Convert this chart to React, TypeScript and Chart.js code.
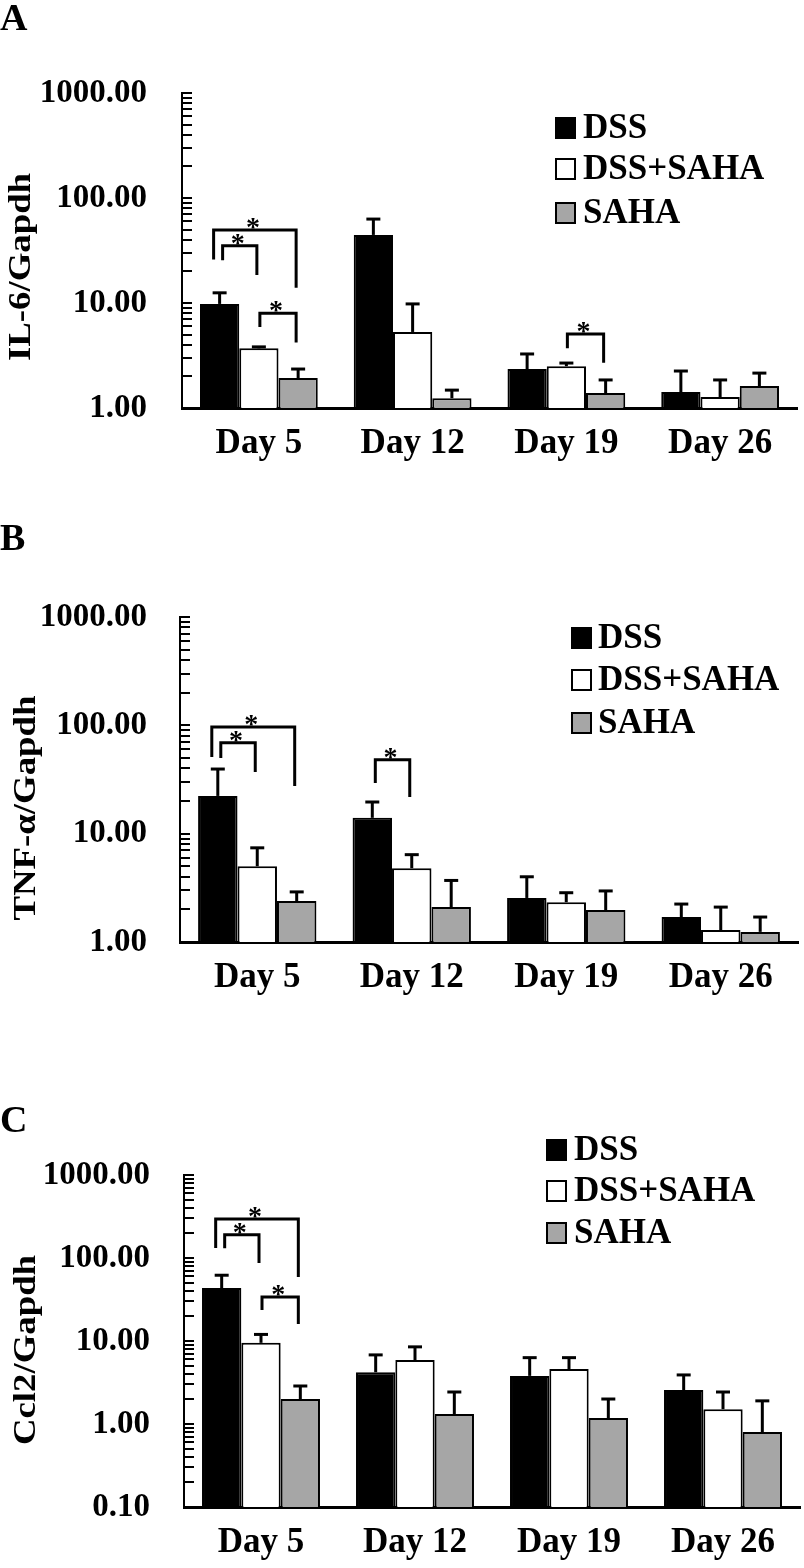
import React, { useEffect, useRef } from 'react';
import { Chart, registerables } from 'chart.js';

Chart.register(...registerables);

const DAYS = ['Day 5', 'Day 12', 'Day 19', 'Day 26'];
const GROUPS = ['DSS', 'DSS+SAHA', 'SAHA'];
const GROUP_FILLS = ['#000000', '#ffffff', '#a6a6a6'];

// Panel A: IL-6/Gapdh (means and upper SD)
const IL6_DSS = [9.8, 44.5, 2.35, 1.42];
const IL6_DSS_SAHA = [3.7, 5.3, 2.5, 1.27];
const IL6_SAHA = [1.93, 1.24, 1.39, 1.62];
const IL6_DSS_SD = [2.7, 18.5, 0.92, 0.83];
const IL6_DSS_SAHA_SD = [0.12, 4.5, 0.18, 0.58];
const IL6_SAHA_SD = [0.42, 0.24, 0.46, 0.53];

// Panel B: TNF-α/Gapdh
const TNF_DSS = [22.3, 14.0, 2.55, 1.7];
const TNF_DSS_SAHA = [5.0, 4.8, 2.33, 1.29];
const TNF_SAHA = [2.39, 2.1, 1.97, 1.24];
const TNF_DSS_SD = [17.2, 5.6, 1.45, 0.54];
const TNF_DSS_SAHA_SD = [2.4, 1.6, 0.52, 0.81];
const TNF_SAHA_SD = [0.51, 1.6, 0.99, 0.46];

// Panel C: Ccl2/Gapdh
const CCL2_DSS = [43.5, 4.2, 3.8, 2.57];
const CCL2_DSS_SAHA = [9.5, 5.9, 4.6, 1.51];
const CCL2_SAHA = [2.0, 1.32, 1.18, 0.8];
const CCL2_DSS_SD = [18.5, 2.6, 2.5, 1.33];
const CCL2_DSS_SAHA_SD = [2.5, 2.6, 1.7, 0.92];
const CCL2_SAHA_SD = [0.87, 1.11, 0.82, 1.1];

// Axis ticks
const MAJOR_TICKS_AB = [1, 10, 100, 1000];
const MAJOR_TICKS_C = [0.1, 1, 10, 100, 1000];
const MINOR_STEPS = [1, 2, 3, 4, 5, 6, 7, 8, 9];

// Significance brackets: [day index, first group, second group, bracket level, left leg end, right leg end]
const SIG_A = [
  [0, 0, 2, 49.6, 26, 14],
  [0, 0, 1, 35, 25.6, 18.5],
  [0, 1, 2, 8, 5.9, 4.2],
  [2, 1, 2, 5.07, 3.7, 2.7],
];
const SIG_B = [
  [0, 0, 2, 96.7, 51, 27.5],
  [0, 0, 1, 69, 50, 37],
  [1, 0, 1, 48, 29.4, 21.8],
];
const SIG_C = [
  [0, 0, 2, 295, 132, 59],
  [0, 0, 1, 190, 131, 87],
  [0, 1, 2, 34, 23.6, 16],
];

const FONT = '"Liberation Serif", "Times New Roman", serif';

type Spec = {
  letter: string;
  title: string;
  values: number[][];
  sds: number[][];
  sig: number[][];
  majors: number[];
};

type Layout = {
  top: number;
  height: number;
  axisLeft: number;
  labelRight: number;
  plotTop: number;
  plotBottom: number;
  plotRight: number;
  legendBoxX: number;
  legendTextX: number;
  legendRows: number[];
  titleX: number;
  titleY: number;
  letterBaseline: number;
};

const SPECS: Spec[] = [
  {
    letter: 'A',
    title: 'IL-6/Gapdh',
    values: [IL6_DSS, IL6_DSS_SAHA, IL6_SAHA],
    sds: [IL6_DSS_SD, IL6_DSS_SAHA_SD, IL6_SAHA_SD],
    sig: SIG_A,
    majors: MAJOR_TICKS_AB,
  },
  {
    letter: 'B',
    title: 'TNF-α/Gapdh',
    values: [TNF_DSS, TNF_DSS_SAHA, TNF_SAHA],
    sds: [TNF_DSS_SD, TNF_DSS_SAHA_SD, TNF_SAHA_SD],
    sig: SIG_B,
    majors: MAJOR_TICKS_AB,
  },
  {
    letter: 'C',
    title: 'Ccl2/Gapdh',
    values: [CCL2_DSS, CCL2_DSS_SAHA, CCL2_SAHA],
    sds: [CCL2_DSS_SD, CCL2_DSS_SAHA_SD, CCL2_SAHA_SD],
    sig: SIG_C,
    majors: MAJOR_TICKS_C,
  },
];

const LAYOUTS: Layout[] = [
  {
    top: 0, height: 500, axisLeft: 182, labelRight: 147, plotTop: 93, plotBottom: 408, plotRight: 797,
    legendBoxX: 556, legendTextX: 583, legendRows: [128, 169, 213], titleX: 30, titleY: 267, letterBaseline: 30,
  },
  {
    top: 500, height: 540, axisLeft: 180, labelRight: 147, plotTop: 117, plotBottom: 442, plotRight: 798,
    legendBoxX: 572, legendTextX: 598, legendRows: [138, 180, 223], titleX: 35, titleY: 308, letterBaseline: 50,
  },
  {
    top: 1040, height: 528, axisLeft: 184, labelRight: 150, plotTop: 135, plotBottom: 467, plotRight: 800,
    legendBoxX: 547, legendTextX: 574, legendRows: [110, 151, 193], titleX: 35, titleY: 310, letterBaseline: 92,
  },
];

const X_AXIS_HEIGHT = 55;

function makeTicks(majors: number[]): number[] {
  const out: number[] = [];
  for (let i = 0; i < majors.length - 1; i++) {
    for (const s of MINOR_STEPS) out.push(+(majors[i] * s).toPrecision(6));
  }
  out.push(majors[majors.length - 1]);
  return out;
}

function Panel({ spec, lay }: { spec: Spec; lay: Layout }) {
  const ref = useRef<HTMLCanvasElement>(null);

  useEffect(() => {
    const canvas = ref.current;
    if (!canvas) return;
    const tickValues = makeTicks(spec.majors);
    const yMin = spec.majors[0];
    const yMax = spec.majors[spec.majors.length - 1];

    const decor = {
      id: 'decor',
      beforeDatasetsDraw(chart: any) {
        const ctx = chart.ctx;
        const ys = chart.scales.y;
        const area = chart.chartArea;
        ctx.save();
        ctx.strokeStyle = '#000';
        ctx.lineWidth = 2;
        for (const v of tickValues) {
          const py = Math.round(ys.getPixelForValue(v));
          ctx.beginPath();
          ctx.moveTo(area.left, py);
          ctx.lineTo(area.left + 10, py);
          ctx.stroke();
        }
        ctx.restore();
      },
      afterDatasetsDraw(chart: any) {
        const ctx = chart.ctx;
        const ys = chart.scales.y;
        ctx.save();
        ctx.strokeStyle = '#000';
        ctx.lineCap = 'butt';
        // error bars (upper only)
        chart.data.datasets.forEach((ds: any, i: number) => {
          const meta = chart.getDatasetMeta(i);
          meta.data.forEach((bar: any, j: number) => {
            const topV = ds.data[j] + ds.sd[j];
            const yTop = ys.getPixelForValue(topV);
            ctx.lineWidth = 3;
            ctx.beginPath();
            ctx.moveTo(bar.x, bar.y);
            ctx.lineTo(bar.x, yTop);
            ctx.stroke();
            ctx.beginPath();
            ctx.moveTo(bar.x - 7, yTop);
            ctx.lineTo(bar.x + 7, yTop);
            ctx.stroke();
          });
        });
        // significance brackets
        ctx.lineWidth = 3;
        ctx.lineJoin = 'miter';
        for (const b of spec.sig) {
          const [day, g1, g2, level, leftEnd, rightEnd] = b;
          const b1 = chart.getDatasetMeta(g1).data[day];
          const b2 = chart.getDatasetMeta(g2).data[day];
          const offL = g2 - g1 === 2 ? -6 : g1 === 0 ? 3 : 1;
          const xL = b1.x + offL;
          const xR = b2.x - 2;
          const yT = ys.getPixelForValue(level);
          ctx.beginPath();
          ctx.moveTo(xL, ys.getPixelForValue(leftEnd));
          ctx.lineTo(xL, yT);
          ctx.lineTo(xR, yT);
          ctx.lineTo(xR, ys.getPixelForValue(rightEnd));
          ctx.stroke();
          ctx.fillStyle = '#000';
          ctx.font = `bold 28px ${FONT}`;
          ctx.textAlign = 'center';
          ctx.textBaseline = 'alphabetic';
          ctx.fillText('*', (xL + xR) / 2 - 2, yT + 6);
        }
        ctx.restore();
      },
      afterDraw(chart: any) {
        const ctx = chart.ctx;
        ctx.save();
        // legend
        ctx.font = `bold 35px ${FONT}`;
        ctx.textAlign = 'left';
        ctx.textBaseline = 'middle';
        GROUPS.forEach((g, i) => {
          const cy = lay.legendRows[i];
          ctx.fillStyle = GROUP_FILLS[i];
          ctx.fillRect(lay.legendBoxX, cy - 10, 19, 20);
          ctx.strokeStyle = '#000';
          ctx.lineWidth = 2;
          ctx.strokeRect(lay.legendBoxX, cy - 10, 19, 20);
          ctx.fillStyle = '#000';
          ctx.fillText(g, lay.legendTextX, cy + 1);
        });
        // y axis title
        ctx.save();
        ctx.translate(lay.titleX, lay.titleY);
        ctx.rotate(-Math.PI / 2);
        ctx.scale(1.15, 1);
        ctx.font = `bold 32px ${FONT}`;
        ctx.textAlign = 'center';
        ctx.textBaseline = 'alphabetic';
        ctx.fillStyle = '#000';
        ctx.fillText(spec.title, 0, 0);
        ctx.restore();
        // panel letter
        ctx.font = `bold 38px ${FONT}`;
        ctx.textAlign = 'left';
        ctx.textBaseline = 'alphabetic';
        ctx.fillStyle = '#000';
        ctx.fillText(spec.letter, 0, lay.letterBaseline);
        ctx.restore();
      },
    };

    const chart = new Chart(canvas, {
      type: 'bar',
      data: {
        labels: DAYS,
        datasets: GROUPS.map((g, i) => ({
          label: g,
          data: spec.values[i],
          sd: spec.sds[i],
          backgroundColor: GROUP_FILLS[i],
          borderColor: '#000',
          borderWidth: 2,
          categoryPercentage: 0.766,
          barPercentage: 1.0,
        })) as any,
      },
      options: {
        animation: false,
        responsive: false,
        maintainAspectRatio: false,
        events: [],
        layout: {
          padding: {
            top: lay.plotTop,
            left: 0,
            right: 804 - lay.plotRight,
            bottom: lay.height - lay.plotBottom - X_AXIS_HEIGHT,
          },
        },
        plugins: {
          legend: { display: false },
          tooltip: { enabled: false },
        },
        scales: {
          x: {
            grid: { display: false, drawTicks: false },
            border: { display: true, color: '#000', width: 3 },
            ticks: {
              color: '#000',
              padding: 15,
              autoSkip: false,
              maxRotation: 0,
              font: { family: FONT, size: 35, weight: 'bold' },
            },
            afterFit: (s: any) => {
              s.height = X_AXIS_HEIGHT;
            },
          },
          y: {
            type: 'logarithmic',
            min: yMin,
            max: yMax,
            grid: { display: false, drawTicks: false },
            border: { display: true, color: '#000', width: 2 },
            ticks: {
              color: '#000',
              autoSkip: false,
              padding: lay.axisLeft - lay.labelRight,
              font: { family: FONT, size: 33, weight: 'bold' },
              callback: (v: any) => {
                const n = Number(v);
                return spec.majors.some((m) => Math.abs(m - n) < 1e-9) ? n.toFixed(2) : '';
              },
            },
            afterBuildTicks: (s: any) => {
              s.ticks = tickValues.map((v) => ({ value: v }));
            },
            afterFit: (s: any) => {
              s.width = lay.axisLeft;
            },
          },
        },
      } as any,
      plugins: [decor],
    });

    return () => {
      chart.destroy();
    };
  }, [spec, lay]);

  return (
    <canvas
      ref={ref}
      width={804}
      height={lay.height}
      style={{ position: 'absolute', left: 0, top: lay.top, width: 804, height: lay.height, display: 'block' }}
    />
  );
}

export default function App() {
  return (
    <div style={{ position: 'absolute', left: 0, top: 0, width: 804, height: 1568, background: '#ffffff', overflow: 'hidden' }}>
      {SPECS.map((spec, i) => (
        <Panel key={spec.letter} spec={spec} lay={LAYOUTS[i]} />
      ))}
    </div>
  );
}
